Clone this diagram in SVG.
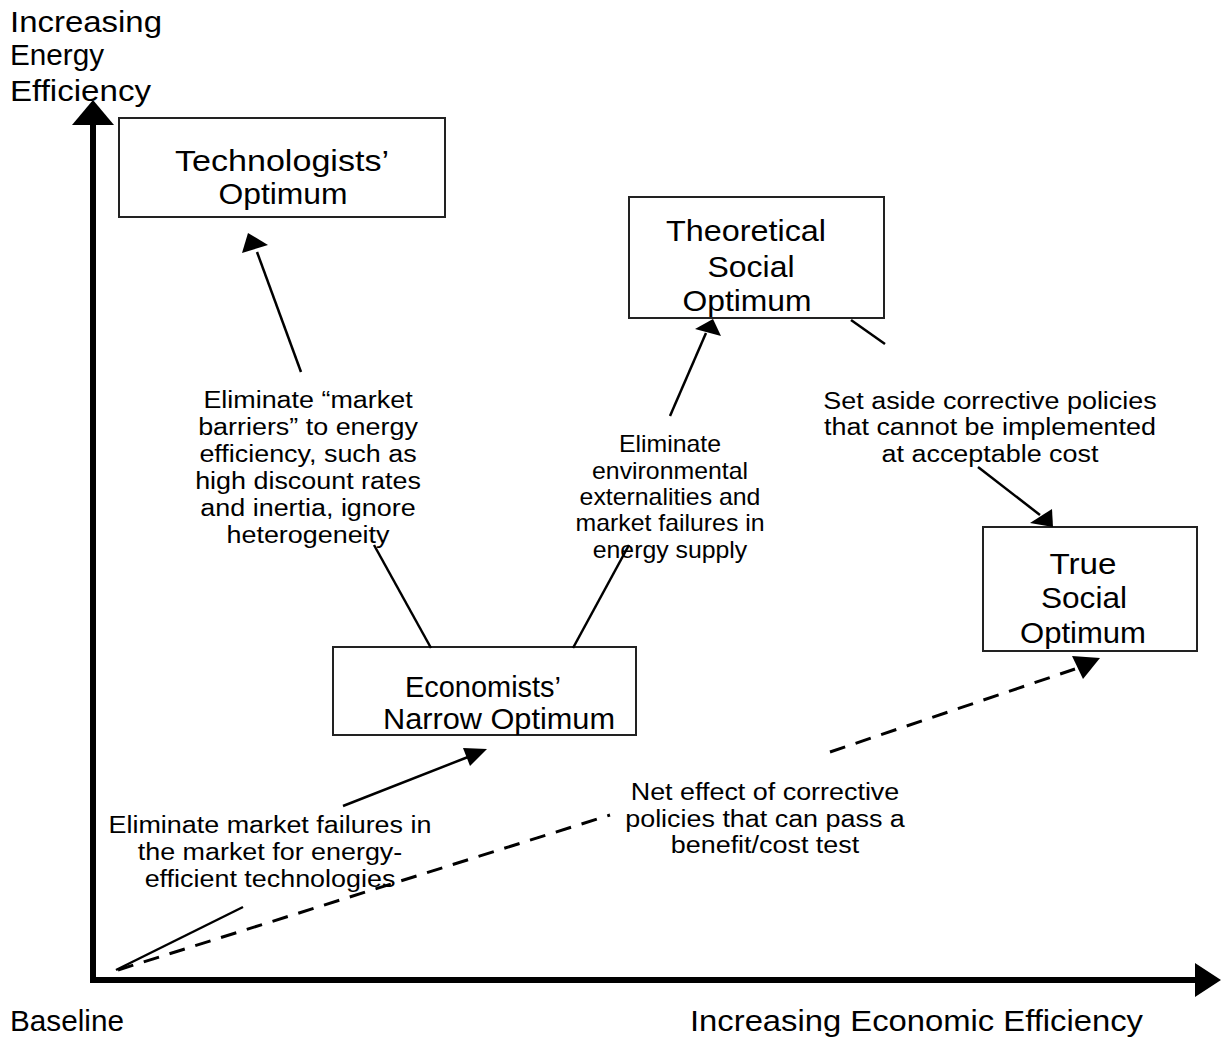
<svg xmlns="http://www.w3.org/2000/svg" width="1221" height="1038" viewBox="0 0 1221 1038">
<style>
text{font-family:"Liberation Sans",Arial,sans-serif;fill:#000}
.ax{font-size:30px}
.bx{font-size:30px;text-anchor:middle}
.an{font-size:23px;text-anchor:middle}
.box{fill:#fff;stroke:#222;stroke-width:2}
.ln{stroke:#000;stroke-width:2.5;fill:none}
.ds{stroke:#000;stroke-width:3;fill:none;stroke-dasharray:16,11}
</style>
<rect width="1221" height="1038" fill="#fff"/>
<g id="axes">
<line x1="93" y1="983" x2="93" y2="120" stroke="#000" stroke-width="6"/>
<path d="M93,100L72,125L114,125z" fill="#000"/>
<line x1="90" y1="980" x2="1196" y2="980" stroke="#000" stroke-width="6"/>
<path d="M1221,980L1195,963L1195,997z" fill="#000"/>
<text class="ax" x="10" y="32" textLength="152" lengthAdjust="spacingAndGlyphs">Increasing</text>
<text class="ax" x="10" y="65" textLength="94" lengthAdjust="spacingAndGlyphs">Energy</text>
<text class="ax" x="10" y="101" textLength="141" lengthAdjust="spacingAndGlyphs">Efficiency</text>
<text class="ax" x="10" y="1031" textLength="114" lengthAdjust="spacingAndGlyphs">Baseline</text>
<text class="ax" x="690" y="1031" textLength="453" lengthAdjust="spacingAndGlyphs">Increasing Economic Efficiency</text>
</g>
<g id="technologists">
<rect class="box" x="119" y="118" width="326" height="99"/>
<text class="bx" x="282" y="171" textLength="214" lengthAdjust="spacingAndGlyphs">Technologists’</text>
<text class="bx" x="283" y="204" textLength="129" lengthAdjust="spacingAndGlyphs">Optimum</text>
</g>
<g id="theoretical">
<rect class="box" x="629" y="197" width="255" height="121"/>
<text class="bx" x="746" y="241" textLength="160" lengthAdjust="spacingAndGlyphs">Theoretical</text>
<text class="bx" x="751" y="277" textLength="87" lengthAdjust="spacingAndGlyphs">Social</text>
<text class="bx" x="747" y="311" textLength="129" lengthAdjust="spacingAndGlyphs">Optimum</text>
</g>
<g id="true-social">
<rect class="box" x="983" y="527" width="214" height="124"/>
<text class="bx" x="1083" y="574" textLength="67" lengthAdjust="spacingAndGlyphs">True</text>
<text class="bx" x="1084" y="608" textLength="86" lengthAdjust="spacingAndGlyphs">Social</text>
<text class="bx" x="1083" y="643" textLength="126" lengthAdjust="spacingAndGlyphs">Optimum</text>
</g>
<g id="economists">
<rect class="box" x="333" y="647" width="303" height="88"/>
<text class="bx" x="483" y="697" textLength="156" lengthAdjust="spacingAndGlyphs">Economists’</text>
<text class="bx" x="499" y="729" textLength="232" lengthAdjust="spacingAndGlyphs">Narrow Optimum</text>
</g>
<g id="connectors">
<line class="ln" x1="301" y1="372" x2="257" y2="252"/>
<path d="M248,233L242,253L268,245z" fill="#000"/>
<line class="ln" x1="431" y1="648" x2="374" y2="545"/>
<line class="ln" x1="573" y1="648" x2="629" y2="545"/>
<line class="ln" x1="670" y1="416" x2="706" y2="333"/>
<path d="M713,319L695,329L721,336z" fill="#000"/>
<line class="ln" x1="851" y1="320" x2="885" y2="344"/>
<line class="ln" x1="978" y1="467" x2="1040" y2="515"/>
<path d="M1053,527L1030,523L1052,509z" fill="#000"/>
<line class="ln" x1="116" y1="970" x2="243" y2="907"/>
<line class="ln" x1="343" y1="806" x2="468" y2="757"/>
<path d="M487,749L463,748L470,766z" fill="#000"/>
<line class="ds" x1="118" y1="970" x2="610" y2="815"/>
<line class="ds" x1="830" y1="752" x2="1075" y2="669"/>
<path d="M1100,658L1072,656L1083,679z" fill="#000"/>
</g>
<g id="labels">
<g transform="translate(308,0) scale(1.17,1)">
<text class="an" x="0" y="408">Eliminate “market</text>
<text class="an" x="0" y="435">barriers” to energy</text>
<text class="an" x="0" y="462">efficiency, such as</text>
<text class="an" x="0" y="489">high discount rates</text>
<text class="an" x="0" y="516">and inertia, ignore</text>
<text class="an" x="0" y="543">heterogeneity</text>
</g>
<g transform="translate(670,0) scale(1.08,1)">
<text class="an" x="0" y="452">Eliminate</text>
<text class="an" x="0" y="479">environmental</text>
<text class="an" x="0" y="505">externalities and</text>
<text class="an" x="0" y="531">market failures in</text>
<text class="an" x="0" y="558">energy supply</text>
</g>
<g transform="translate(990,0) scale(1.17,1)">
<text class="an" x="0" y="409">Set aside corrective policies</text>
<text class="an" x="0" y="435">that cannot be implemented</text>
<text class="an" x="0" y="462">at acceptable cost</text>
</g>
<g transform="translate(270,0) scale(1.17,1)">
<text class="an" x="0" y="833">Eliminate market failures in</text>
<text class="an" x="0" y="860">the market for energy-</text>
<text class="an" x="0" y="887">efficient technologies</text>
</g>
<g transform="translate(765,0) scale(1.17,1)">
<text class="an" x="0" y="800">Net effect of corrective</text>
<text class="an" x="0" y="827">policies that can pass a</text>
<text class="an" x="0" y="853">benefit/cost test</text>
</g>
</g>
</svg>
